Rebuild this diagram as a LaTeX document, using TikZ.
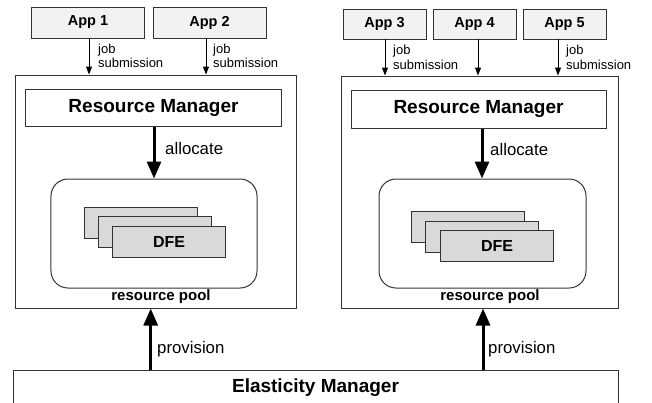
\documentclass[tikz,border=0pt]{standalone}
\usepackage{fontspec}
\setmainfont{Liberation Sans}
\usetikzlibrary{arrows.meta}
\definecolor{appfill}{HTML}{F2F2F2}
\definecolor{dfefill}{HTML}{D9D9D9}
\definecolor{edge}{HTML}{333333}
\tikzset{
  box/.style={draw=edge, line width=1bp, rectangle, inner sep=0pt},
  appbox/.style={box, fill=appfill, font=\fontsize{14.5bp}{16bp}\selectfont\bfseries},
  rmbox/.style={box, fill=white, font=\fontsize{19bp}{22bp}\selectfont\bfseries},
  poolbox/.style={box, rounded corners=17bp},
  dfebox/.style={box, fill=dfefill, minimum width=113bp, minimum height=31bp, font=\fontsize{16bp}{18bp}\selectfont\bfseries},
  jobarrow/.style={draw=black, line width=1bp, -{Triangle[length=8bp,width=6bp]}},
  bigarrow/.style={draw=black, line width=3bp, -{Triangle[length=17bp,width=14bp]}},
  joblabel/.style={anchor=west, align=left, inner sep=0pt, font=\fontsize{13bp}{14.5bp}\selectfont},
  biglabel/.style={anchor=west, inner sep=0pt, font=\fontsize{16.8bp}{19bp}\selectfont},
  poollabel/.style={inner sep=0pt, font=\fontsize{15bp}{17bp}\selectfont\bfseries}
}
\begin{document}
\begin{tikzpicture}[x=1bp,y=-1bp]
\useasboundingbox (0,0) rectangle (652,402);
\begin{scope}
\clip (0,0) rectangle (652,402);
% outer boxes
\node[box, minimum width=280bp, minimum height=233bp] (LB) at (156,191.5) {};
\node[box, minimum width=277bp, minimum height=232bp] (RB) at (479.5,192) {};
% apps
\node[appbox, minimum width=112bp, minimum height=31bp] (A1) at (88,22.5) {App 1};
\node[appbox, minimum width=113bp, minimum height=31bp] (A2) at (209.5,22.5) {App 2};
\node[appbox, minimum width=83bp, minimum height=30bp] (A3) at (384.5,24) {App 3};
\node[appbox, minimum width=83bp, minimum height=30bp] (A4) at (474.5,24) {App 4};
\node[appbox, minimum width=83bp, minimum height=30bp] (A5) at (564.5,24) {App 5};
% resource managers
\node[rmbox, minimum width=255bp, minimum height=37bp] (RM1) at (153.5,107.5) {Resource Manager};
\node[rmbox, minimum width=255bp, minimum height=38bp] (RM2) at (478.5,109) {Resource Manager};
% pools
\node[poolbox, minimum width=206bp, minimum height=109bp] (P1) at (154,233.5) {};
\node[poolbox, minimum width=207bp, minimum height=109bp] (P2) at (482.5,233.5) {};
% DFE stacks
\node[dfebox] (D1a) at (140.5,222.5) {};
\node[dfebox] (D1b) at (154.5,232) {};
\node[dfebox] (D1c) at (169,241.5) {DFE};
\node[dfebox] (D2a) at (468,226.5) {};
\node[dfebox] (D2b) at (482,236.5) {};
\node[dfebox] (D2c) at (497,245.5) {DFE};
% pool labels
\node[poollabel] (PL1) at (161,297) {resource pool};
\node[poollabel] (PL2) at (490,297) {resource pool};
% elasticity manager
\node[box, minimum width=605bp, minimum height=60bp, anchor=north west] (EM) at (13,369.7) {};
\node[inner sep=0pt, font=\fontsize{19bp}{22bp}\selectfont\bfseries] (EMT) at (315.5,388) {Elasticity Manager};
% job submission arrows
\coordinate (j1) at (89,38);
\coordinate (j2) at (206,38);
\coordinate (j3) at (385,39);
\coordinate (j4) at (478,39);
\coordinate (j5) at (558,39);
\draw[jobarrow] (j1) -- (j1 |- LB.north);
\draw[jobarrow] (j2) -- (j2 |- LB.north);
\draw[jobarrow] (j3) -- (j3 |- RB.north);
\draw[jobarrow] (j4) -- (j4 |- RB.north);
\draw[jobarrow] (j5) -- (j5 |- RB.north);
\node[joblabel] (L1) at (98,56) {job\\submission};
\node[joblabel] (L2) at (213,56) {job\\submission};
\node[joblabel] (L3) at (393,57.5) {job\\submission};
\node[joblabel] (L5) at (566,57.5) {job\\submission};
% allocate arrows
\coordinate (a1) at (154,0);
\coordinate (a2) at (482,0);
\draw[bigarrow] (a1 |- RM1.south) -- (a1 |- P1.north);
\draw[bigarrow] (a2 |- RM2.south) -- (a2 |- P2.north);
\node[biglabel] (AL1) at (165,148) {allocate};
\node[biglabel] (AL2) at (490,149) {allocate};
% provision arrows
\coordinate (p1) at (150.7,0);
\coordinate (p2) at (483,0);
\draw[bigarrow] (p1 |- EM.north) -- (p1 |- LB.south);
\draw[bigarrow] (p2 |- EM.north) -- (p2 |- RB.south);
\node[biglabel] (PV1) at (157,349) {provision};
\node[biglabel] (PV2) at (488,349) {provision};
\end{scope}
\end{tikzpicture}
\end{document}
